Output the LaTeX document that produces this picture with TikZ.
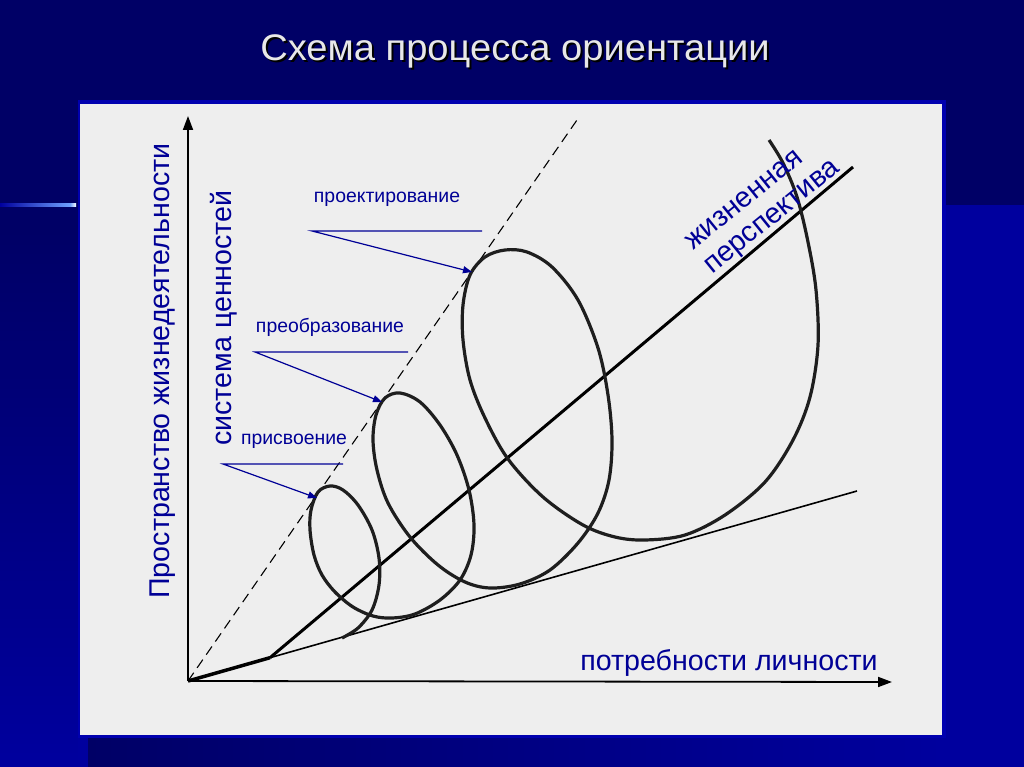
\documentclass[tikz,border=0pt]{standalone}
\usepackage{fontspec}
\setmainfont{Liberation Sans}
\usetikzlibrary{arrows.meta}
\definecolor{navy}{RGB}{0,0,102}
\definecolor{brightblue}{RGB}{0,0,158}
\definecolor{frameblue}{RGB}{0,0,175}
\definecolor{panel}{RGB}{238,238,238}
\definecolor{labelblue}{RGB}{0,0,150}
\definecolor{titlegray}{RGB}{232,232,232}
\definecolor{streak}{RGB}{110,160,255}
\definecolor{curve}{RGB}{30,30,30}
\tikzset{
  axisline/.style={line width=1.8pt, -{Triangle[length=14pt,width=10pt]}},
  dashline/.style={line width=1.1pt, dash pattern=on 10pt off 6pt},
  thickline/.style={line width=3pt},
  thinline/.style={line width=1.6pt},
  spiralline/.style={line width=3.2pt, color=curve, line join=round},
  leader/.style={labelblue, line width=1.2pt, -{Triangle[length=9pt,width=7pt]}},
  biglabel/.style={text=labelblue, font=\fontsize{28.6}{32}\selectfont, inner sep=0pt},
  smalllabel/.style={text=labelblue, font=\fontsize{19.4}{22}\selectfont, inner sep=0pt},
  titletext/.style={font=\fontsize{37}{42}\selectfont, inner sep=0pt, anchor=base},
}
\begin{document}
\begin{tikzpicture}[x=1pt,y=-1pt]
\useasboundingbox (0,0) rectangle (1024,767);
% background
\fill[navy] (0,0) rectangle (1024,767);
\shade[top color=navy, bottom color=brightblue] (0,230) rectangle (80,767);
\fill[brightblue] (943,205) rectangle (1024,767);
\shade[left color=navy, right color=brightblue] (88,738) rectangle (943,767);
\fill[brightblue] (78,738) rectangle (88,767);
\shade[left color=brightblue, right color=streak] (0,203.5) rectangle (70,206.5);
\shade[left color=streak, right color=white] (70,203.5) rectangle (76,206.5);
% panel
\fill[frameblue] (78,100) rectangle (946,738);
\fill[panel] (80,104) rectangle (942,735);
% title
\node[titletext, text=black] (titleshadow) at (517,63) {\scalebox{1.03}[1]{Схема процесса ориентации}};
\node[titletext, text=titlegray] (title) at (515,61) {\scalebox{1.03}[1]{Схема процесса ориентации}};
% coordinates
\coordinate (O) at (188,681);
\coordinate (Ytip) at (188,116);
\coordinate (Xtip) at (892,682);
\coordinate (D) at (577,120);
\coordinate (T) at (857,491);
\coordinate (K) at (270,657.7);
\coordinate (Pend) at (853,167);
% lines
\draw[dashline] (O) -- (D);
\draw[thinline] (O) -- (T);
\draw[line width=3.5pt] (O) -- (K);
\draw[thickline] (K) -- (Pend);
% spiral
\draw[spiralline] plot[smooth, tension=0.55] coordinates {
(342,638) (358,628) (372,610) (379,585) (379,558) (372,530) (358,505) (343,490) (330,486) (318,492) (311,510) (310,530) (314,555) (322,575) (335,592) (353,607) (373,616) (392,618) (415,614) (440,600) (460,580) (471,555) (474,525) (469,490) (457,455) (440,425) (420,402) (400,393) (385,398) (376,415) (373,440) (377,470) (388,503) (410,537) (438,565) (465,582) (490,588) (520,584) (550,570) (578,543) (598,513) (609,480) (612,440) (608,395) (598,348) (578,300) (552,267) (527,252) (505,250) (485,257) (470,275) (463,305) (463,340) (470,380) (485,418) (508,459) (543,497) (583,525) (615,537) (645,540) (685,535) (725,515) (765,482) (793,440) (810,397) (818,345) (816,290) (808,242) (797,197) (783,163) (769,140)};
% axes
\draw[axisline] (O) -- (Ytip);
\draw[axisline] (O) -- (Xtip);
% leaders
\coordinate (a1) at (223,464); \coordinate (a1e) at (343,464); \coordinate (a1t) at (317,498);
\coordinate (a2) at (255,352); \coordinate (a2e) at (408,352); \coordinate (a2t) at (382,402);
\coordinate (a3) at (312,231); \coordinate (a3e) at (482,231); \coordinate (a3t) at (472,272);
\draw[leader] (a1e) -- (a1) -- (a1t);
\draw[leader] (a2e) -- (a2) -- (a2t);
\draw[leader] (a3e) -- (a3) -- (a3t);
% labels
\node[smalllabel] (l1) at (294,441) {присвоение};
\node[smalllabel] (l2) at (330,327) {преобразование};
\node[smalllabel] (l3) at (387,199) {проектирование};
\node[biglabel, rotate=90] (space) at (163,371) {Пространство жизнедеятельности};
\node[biglabel, rotate=90] (values) at (224,318) {система ценностей};
\node[biglabel, rotate=39, align=left, font=\fontsize{28.6}{30.5}\selectfont] (life) at (764,207) {жизненная\\перспектива};
\node[biglabel] (needs) at (729,663) {потребности личности};
\end{tikzpicture}
\end{document}
